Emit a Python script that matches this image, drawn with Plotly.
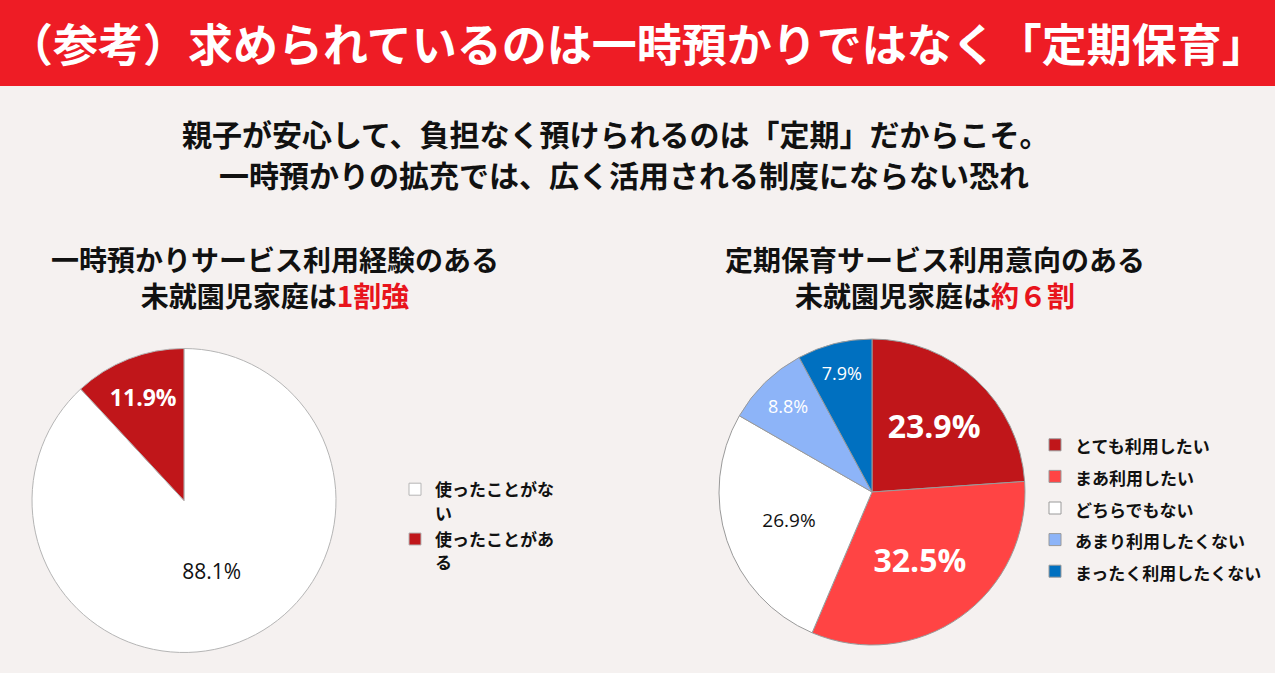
import plotly.graph_objects as go

W, H = 1275, 673
BG = "#f5f1f0"
FONT = "Noto Sans CJK JP"
NUMFONT = "Open Sans"

# Data
left_labels = ["使ったことがな<br>い", "使ったことがあ<br>る"]
left_values = [88.1, 11.9]
left_colors = ["#ffffff", "#c0161a"]

right_labels = ["とても利用したい", "まあ利用したい", "どちらでもない", "あまり利用したくない", "まったく利用したくない"]
right_values = [23.9, 32.5, 26.9, 8.8, 7.9]
right_colors = ["#c0161a", "#ff4444", "#ffffff", "#8db4f8", "#0070c0"]

title_text = "（参考）求められているのは一時預かりではなく「定期保育」"
sub_lines = ["親子が安心して、負担なく預けられるのは「定期」だからこそ。",
             "一時預かりの拡充では、広く活用される制度にならない恐れ"]
left_title = "一時預かりサービス利用経験のある<br>未就園児家庭は<span style='color:#e8141c'>1割強</span>"
right_title = "定期保育サービス利用意向のある<br>未就園児家庭は<span style='color:#e8141c'>約６割</span>"


def px_x(x):
    return x / W


def px_y(y):
    return 1 - y / H


def small(lbls):
    return [f"<span style='font-size:17px'>{t}</span>" for t in lbls]


fig = go.Figure()

fig.add_trace(go.Pie(
    labels=small(left_labels), values=left_values, sort=False, direction="clockwise", rotation=0,
    marker=dict(colors=left_colors, line=dict(color="#b5b5b5", width=1)),
    texttemplate=["%{value:.1f}%", "<b>%{value:.1f}%</b>"],
    textposition="inside", insidetextorientation="horizontal",
    textfont=dict(family=NUMFONT, size=[21, 23], color=["#111111", "#ffffff"]),
    domain=dict(x=[px_x(32), px_x(336)], y=[px_y(654), px_y(347)]),
    legend="legend", hoverinfo="label+percent",
))

fig.add_trace(go.Pie(
    labels=small(right_labels), values=right_values, sort=False, direction="clockwise", rotation=0,
    marker=dict(colors=right_colors, line=dict(color="#9a9a9a", width=1)),
    texttemplate=["<b>%{value:.1f}%</b>", "<b>%{value:.1f}%</b>", "%{value:.1f}%", "%{value:.1f}%", "%{value:.1f}%"],
    textposition="inside", insidetextorientation="horizontal",
    textfont=dict(family=NUMFONT, size=[32, 32, 19, 18, 18],
                  color=["#ffffff", "#ffffff", "#111111", "#ffffff", "#ffffff"]),
    domain=dict(x=[px_x(718), px_x(1026)], y=[px_y(645), px_y(339)]),
    legend="legend2", hoverinfo="label+percent",
))

annotations = [
    dict(text=f"<b>{title_text}</b>", x=px_x(637), y=px_y(42), xanchor="center", yanchor="middle",
         font=dict(family=FONT, size=45, color="#ffffff")),
    dict(text=f"<b>{sub_lines[0]}</b>", x=px_x(616), y=px_y(133), xanchor="center", yanchor="middle",
         font=dict(family=FONT, size=30, color="#111111")),
    dict(text=f"<b>{sub_lines[1]}</b>", x=px_x(624), y=px_y(174), xanchor="center", yanchor="middle",
         font=dict(family=FONT, size=30, color="#111111")),
    dict(text=f"<b>{left_title}</b>", x=px_x(275), y=px_y(277), xanchor="center", yanchor="middle",
         font=dict(family=FONT, size=28, color="#111111")),
    dict(text=f"<b>{right_title}</b>", x=px_x(935), y=px_y(277), xanchor="center", yanchor="middle",
         font=dict(family=FONT, size=28, color="#111111")),
]
for a in annotations:
    a.update(xref="paper", yref="paper", showarrow=False)

fig.update_layout(
    width=W, height=H,
    margin=dict(l=0, r=0, t=0, b=0),
    paper_bgcolor=BG, plot_bgcolor=BG,
    showlegend=True,
    annotations=annotations,
    shapes=[dict(type="rect", xref="paper", yref="paper", x0=0, x1=1, y0=px_y(86), y1=1,
                 fillcolor="#ee1c25", line=dict(width=0), layer="below")],
    legend=dict(x=px_x(395), y=px_y(471), xanchor="left", yanchor="top", bgcolor="rgba(0,0,0,0)",
                valign="top",
                font=dict(family=FONT, size=18, color="#111111", weight="bold"), traceorder="normal"),
    legend2=dict(x=px_x(1035), y=px_y(424), xanchor="left", yanchor="top", bgcolor="rgba(0,0,0,0)",
                 font=dict(family=FONT, size=22, color="#111111", weight="bold"), traceorder="normal"),
)

fig.write_html("out.html", config={"displayModeBar": False},
               post_script="document.body.style.margin='0';document.body.style.overflow='hidden';")
